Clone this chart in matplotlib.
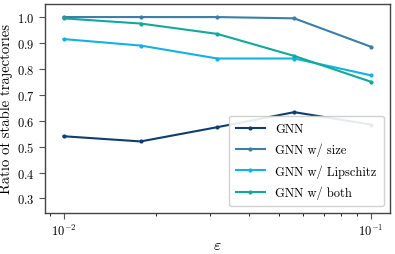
import matplotlib
matplotlib.use("Agg")
import matplotlib.pyplot as plt

plt.rcParams['font.family'] = 'cmr10'
plt.rcParams['mathtext.fontset'] = 'cm'
plt.rcParams['axes.formatter.use_mathtext'] = True

eps = [0.01, 0.0178, 0.0316, 0.0562, 0.1]
gnn = [0.54, 0.52, 0.575, 0.633, 0.585]
gnn_size = [1.0, 1.0, 1.0, 0.995, 0.885]
gnn_lip = [0.915, 0.89, 0.84, 0.84, 0.775]
gnn_both = [0.995, 0.975, 0.935, 0.85, 0.75]
labels = ["GNN", "GNN w/ size", "GNN w/ Lipschitz", "GNN w/ both"]
colors = ["#0f3d6e", "#3b7ea8", "#12b3e0", "#12a89a"]

fig = plt.figure(figsize=(3.95, 2.55), dpi=100)
ax = fig.add_axes([0.114, 0.162, 0.873, 0.818])
for ys, lab, c in zip([gnn, gnn_size, gnn_lip, gnn_both], labels, colors):
    ax.plot(eps, ys, color=c, marker='.', markersize=4, linewidth=1.5, label=lab)
ax.set_xscale('log')
ax.set_xlim(0.0087, 0.115)
ax.set_ylim(0.245, 1.05)
ax.set_yticks([0.3, 0.4, 0.5, 0.6, 0.7, 0.8, 0.9, 1.0])
ax.tick_params(labelsize=9, color='#555555', length=4)
for s in ax.spines.values():
    s.set_color('#444444')
    s.set_linewidth(1.0)
ax.set_xlabel(r'$\varepsilon$', fontsize=11.5, labelpad=0)
ax.set_ylabel('Ratio of stable trajectories', fontsize=10.5, labelpad=3)
leg = ax.legend(loc='lower right', fontsize=9, framealpha=0.9,
                labelspacing=0.62, handlelength=2.3, borderpad=0.6,
                edgecolor='#cccccc', fancybox=True)
fig.savefig('out.png', dpi=100)
